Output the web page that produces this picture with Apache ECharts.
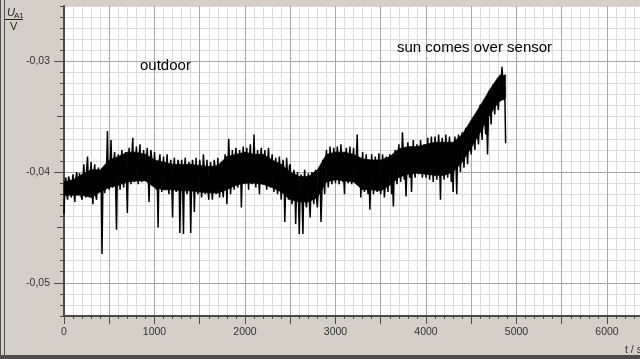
<!DOCTYPE html>
<html>
<head>
<meta charset="utf-8">
<script src="https://cdn.jsdelivr.net/npm/echarts@6/dist/echarts.min.js"></script>
<style>
html,body{margin:0;padding:0;background:#d4d0c8;}
#c{width:640px;height:359px;}
</style>
</head>
<body>
<div id="c"></div>
<script>
// sampling step of the recorded signal (s); samples every 10 s, stored as two interleaved lists
const sampleStep = 20;
// U_A1 in V at t = 0, 20, 40, ... s
const uA1even = [
-0.0438,-0.0405,-0.0425,-0.0407,-0.0423,
-0.0402,-0.0427,-0.0400,-0.0420,-0.0407,
-0.0425,-0.0393,-0.0423,-0.0386,-0.0420,
-0.0391,-0.0429,-0.0393,-0.0425,-0.0396,
-0.0418,-0.0474,-0.0396,-0.0420,-0.0363,
-0.0416,-0.0371,-0.0414,-0.0382,-0.0452,
-0.0384,-0.0416,-0.0380,-0.0414,-0.0382,
-0.0437,-0.0378,-0.0411,-0.0369,-0.0409,
-0.0377,-0.0411,-0.0375,-0.0409,-0.0380,
-0.0407,-0.0378,-0.0427,-0.0380,-0.0411,
-0.0382,-0.0416,-0.0450,-0.0384,-0.0418,
-0.0386,-0.0416,-0.0384,-0.0420,-0.0389,
-0.0441,-0.0387,-0.0418,-0.0389,-0.0455,
-0.0389,-0.0456,-0.0387,-0.0420,-0.0391,
-0.0455,-0.0389,-0.0436,-0.0387,-0.0420,
-0.0389,-0.0423,-0.0384,-0.0420,-0.0389,
-0.0425,-0.0391,-0.0425,-0.0389,-0.0420,
-0.0387,-0.0423,-0.0391,-0.0423,-0.0384,
-0.0429,-0.0370,-0.0420,-0.0380,-0.0416,
-0.0378,-0.0414,-0.0380,-0.0432,-0.0377,
-0.0411,-0.0378,-0.0416,-0.0375,-0.0411,
-0.0366,-0.0414,-0.0380,-0.0420,-0.0378,
-0.0411,-0.0380,-0.0416,-0.0378,-0.0414,
-0.0384,-0.0418,-0.0387,-0.0420,-0.0386,
-0.0425,-0.0389,-0.0445,-0.0387,-0.0425,
-0.0393,-0.0429,-0.0398,-0.0447,-0.0400,
-0.0456,-0.0402,-0.0456,-0.0398,-0.0432,
-0.0401,-0.0441,-0.0400,-0.0429,-0.0398,
-0.0432,-0.0400,-0.0445,-0.0389,-0.0420,
-0.0380,-0.0414,-0.0377,-0.0411,-0.0378,
-0.0410,-0.0377,-0.0411,-0.0375,-0.0409,
-0.0420,-0.0378,-0.0410,-0.0377,-0.0411,
-0.0378,-0.0409,-0.0366,-0.0411,-0.0423,
-0.0382,-0.0418,-0.0384,-0.0420,-0.0434,
-0.0384,-0.0420,-0.0386,-0.0418,-0.0383,
-0.0420,-0.0384,-0.0423,-0.0386,-0.0418,
-0.0384,-0.0420,-0.0431,-0.0380,-0.0411,
-0.0375,-0.0409,-0.0364,-0.0407,-0.0422,
-0.0373,-0.0405,-0.0418,-0.0371,-0.0405,
-0.0375,-0.0402,-0.0371,-0.0405,-0.0375,
-0.0405,-0.0369,-0.0407,-0.0368,-0.0409,
-0.0368,-0.0407,-0.0366,-0.0425,-0.0369,
-0.0407,-0.0366,-0.0405,-0.0368,-0.0409,
-0.0418,-0.0368,-0.0420,-0.0366,-0.0400,
-0.0364,-0.0396,-0.0360,-0.0393,-0.0357,
-0.0384,-0.0351,-0.0380,-0.0347,-0.0375,
-0.0339,-0.0371,-0.0335,-0.0366,-0.0384,
-0.0327,-0.0357,-0.0321,-0.0348,-0.0317,
-0.0344,-0.0312,-0.0305,-0.0335,-0.0374
];
// U_A1 in V at t = 10, 30, 50, ... s
const uA1odd = [
-0.0412,-0.0420,-0.0404,-0.0415,-0.0409,
-0.0418,-0.0406,-0.0412,-0.0401,-0.0422,
-0.0405,-0.0415,-0.0398,-0.0410,-0.0402,
-0.0417,-0.0400,-0.0421,-0.0408,-0.0412,
-0.0405,-0.0410,-0.0419,-0.0398,-0.0408,
-0.0395,-0.0403,-0.0389,-0.0410,-0.0398,
-0.0402,-0.0391,-0.0407,-0.0396,-0.0404,
-0.0392,-0.0399,-0.0385,-0.0404,-0.0393,
-0.0398,-0.0386,-0.0403,-0.0392,-0.0400,
-0.0390,-0.0402,-0.0394,-0.0388,-0.0405,
-0.0396,-0.0408,-0.0391,-0.0403,-0.0399,
-0.0405,-0.0395,-0.0411,-0.0399,-0.0408,
-0.0396,-0.0412,-0.0402,-0.0394,-0.0410,
-0.0407,-0.0398,-0.0413,-0.0401,-0.0395,
-0.0409,-0.0397,-0.0405,-0.0414,-0.0400,
-0.0403,-0.0412,-0.0396,-0.0408,-0.0415,
-0.0400,-0.0414,-0.0405,-0.0397,-0.0411,
-0.0409,-0.0398,-0.0415,-0.0403,-0.0394,
-0.0402,-0.0392,-0.0408,-0.0397,-0.0388,
-0.0396,-0.0404,-0.0389,-0.0402,-0.0395,
-0.0390,-0.0400,-0.0386,-0.0406,-0.0394,
-0.0399,-0.0391,-0.0404,-0.0388,-0.0401,
-0.0393,-0.0405,-0.0390,-0.0399,-0.0396,
-0.0403,-0.0395,-0.0409,-0.0399,-0.0405,
-0.0407,-0.0398,-0.0412,-0.0403,-0.0395,
-0.0411,-0.0419,-0.0404,-0.0415,-0.0421,
-0.0413,-0.0422,-0.0410,-0.0426,-0.0416,
-0.0420,-0.0409,-0.0417,-0.0412,-0.0423,
-0.0414,-0.0406,-0.0418,-0.0401,-0.0396,
-0.0395,-0.0402,-0.0390,-0.0398,-0.0387,
-0.0393,-0.0387,-0.0399,-0.0391,-0.0402,
-0.0388,-0.0398,-0.0394,-0.0401,-0.0390,
-0.0396,-0.0389,-0.0403,-0.0393,-0.0399,
-0.0405,-0.0396,-0.0410,-0.0401,-0.0407,
-0.0399,-0.0408,-0.0403,-0.0395,-0.0411,
-0.0406,-0.0397,-0.0412,-0.0402,-0.0399,
-0.0397,-0.0405,-0.0392,-0.0400,-0.0395,
-0.0389,-0.0396,-0.0384,-0.0399,-0.0391,
-0.0393,-0.0385,-0.0390,-0.0397,-0.0387,
-0.0386,-0.0392,-0.0383,-0.0394,-0.0389,
-0.0384,-0.0393,-0.0380,-0.0390,-0.0387,
-0.0391,-0.0382,-0.0388,-0.0379,-0.0394,
-0.0385,-0.0392,-0.0381,-0.0389,-0.0386,
-0.0383,-0.0388,-0.0379,-0.0385,-0.0381,
-0.0380,-0.0373,-0.0378,-0.0370,-0.0375,
-0.0365,-0.0370,-0.0360,-0.0366,-0.0357,
-0.0355,-0.0348,-0.0353,-0.0345,-0.0350,
-0.0340,-0.0333,-0.0338,-0.0330,-0.0336,
-0.0325,-0.0320,-0.0318,-0.0322
];
// dense core of the noise band, t in s, values in V
const coreTime = [0,100,200,300,400,500,600,700,800,900,1000,1100,1200,1300,1400,1500,1600,1700,1800,1900,
  2000,2100,2200,2300,2400,2500,2600,2700,2800,2900,3000,3100,3200,3300,3400,3500,3600,3700,3800,3900,
  4000,4100,4200,4300,4400,4500,4600,4700,4800,4880];
const coreTop = [-0.0409,-0.0407,-0.0402,-0.0398,-0.0398,-0.0389,-0.0386,-0.0382,-0.0382,-0.0384,
  -0.0389,-0.0391,-0.0393,-0.0393,-0.0393,-0.0394,-0.0395,-0.0394,-0.0386,-0.0384,
  -0.0382,-0.0384,-0.0384,-0.0389,-0.0393,-0.0400,-0.0404,-0.0404,-0.0398,-0.0384,
  -0.0382,-0.0382,-0.0384,-0.0388,-0.0389,-0.0389,-0.0386,-0.0379,-0.0377,-0.0377,
  -0.0375,-0.0373,-0.0373,-0.0373,-0.0366,-0.0353,-0.0340,-0.0326,-0.0314,-0.0312];
const coreBottom = [-0.0421,-0.0421,-0.0421,-0.0423,-0.0418,-0.0414,-0.0412,-0.0409,-0.0408,-0.0408,
  -0.0414,-0.0416,-0.0416,-0.0417,-0.0417,-0.0418,-0.0419,-0.0419,-0.0416,-0.0412,
  -0.0410,-0.0410,-0.0411,-0.0414,-0.0418,-0.0425,-0.0427,-0.0427,-0.0423,-0.0409,
  -0.0407,-0.0408,-0.0409,-0.0416,-0.0416,-0.0417,-0.0412,-0.0405,-0.0402,-0.0401,
  -0.0402,-0.0403,-0.0403,-0.0400,-0.0391,-0.0378,-0.0364,-0.0349,-0.0337,-0.0333];

const yMin = -0.053, yMax = -0.025;
const xMin = 0, xMax = 6365;
const yMajorTicks = [-0.05, -0.045, -0.04, -0.035, -0.03];
const yLabelTicks = [-0.05, -0.04, -0.03];
const annotations = [
  {text: 'outdoor', x: 140, y: 66},
  {text: 'sun comes over sensor', x: 397, y: 48}
];

const seriesData = [];
uA1even.forEach((v, i) => {
  seriesData.push([i * sampleStep, v]);
  if (i < uA1odd.length) seriesData.push([i * sampleStep + sampleStep / 2, uA1odd[i]]);
});
const coreData = coreTime.map((t, i) => [t, coreTop[i], coreBottom[i]]);
const labelFont = "'Liberation Sans Narrow','Arial Narrow','Liberation Sans',sans-serif";
const axisCol = '#4a4a4a';

const chart = echarts.init(document.getElementById('c'), null, {renderer: 'canvas'});
chart.setOption({
  animation: false,
  backgroundColor: '#d4d0c8',
  grid: {left: 64, top: 6, right: 0, bottom: 43, show: true, backgroundColor: '#ffffff', borderWidth: 0, containLabel: false, outerBoundsMode: 'none'},
  xAxis: [
    {type: 'value', min: xMin, max: xMax, interval: 100, position: 'bottom',
     axisLine: {show: true, onZero: false, lineStyle: {color: axisCol, width: 2}},
     axisTick: {show: true, length: 3, lineStyle: {color: axisCol}},
     axisLabel: {show: false},
     splitLine: {show: true, lineStyle: {color: '#dcdcdc', width: 1}}},
    {type: 'value', min: xMin, max: xMax, interval: 500, position: 'bottom',
     axisLine: {show: false, onZero: false},
     axisTick: {show: true, length: 8, lineStyle: {color: axisCol}},
     axisLabel: {show: true, margin: 11, color: '#333', fontSize: 10.5, fontFamily: labelFont,
       formatter: v => (v % 1000 === 0 ? String(v) : '')},
     splitLine: {show: true, lineStyle: {color: '#a8a8a8', width: 1}}}
  ],
  yAxis: [
    {type: 'value', min: yMin, max: yMax, interval: 0.001, position: 'left',
     axisLine: {show: true, onZero: false, lineStyle: {color: axisCol, width: 2}},
     axisTick: {show: true, length: 4, lineStyle: {color: axisCol}},
     axisLabel: {show: false},
     splitLine: {show: true, lineStyle: {color: '#dcdcdc', width: 1}}},
    {type: 'value', min: yMin, max: yMax, position: 'left',
     axisLine: {show: false, onZero: false},
     axisTick: {show: true, length: 7, customValues: yMajorTicks, lineStyle: {color: axisCol}},
     axisLabel: {show: false},
     splitLine: {show: false}},
    {type: 'value', min: yMin, max: yMax, position: 'left',
     axisLine: {show: false, onZero: false},
     axisTick: {show: true, length: 10, customValues: yLabelTicks, lineStyle: {color: axisCol}},
     axisLabel: {show: true, customValues: yLabelTicks, margin: 14, color: '#333', fontSize: 10.5, fontFamily: labelFont,
       formatter: v => v.toFixed(2).replace('.', ',')},
     splitLine: {show: false}}
  ],
  series: [
    {type: 'line', z: 1, data: [], xAxisIndex: 0, yAxisIndex: 0,
     markLine: {z: 0, silent: true, symbol: ['none', 'none'], label: {show: false},
       lineStyle: {color: '#a8a8a8', width: 1, type: 'solid'},
       data: yMajorTicks.map(v => ({yAxis: v}))}},
    {type: 'custom', z: 3, xAxisIndex: 0, yAxisIndex: 0, data: coreData, silent: true,
     renderItem: function (params, api) {
       const i = params.dataIndexInside;
       if (i >= params.dataInsideLength - 1) return null;
       const p1 = api.coord([api.value(0, i), api.value(1, i)]);
       const p2 = api.coord([api.value(0, i + 1), api.value(1, i + 1)]);
       const p3 = api.coord([api.value(0, i + 1), api.value(2, i + 1)]);
       const p4 = api.coord([api.value(0, i), api.value(2, i)]);
       return {type: 'polygon', shape: {points: [p1, p2, p3, p4]},
         style: {fill: '#000', stroke: '#000', lineWidth: 0.6}};
     }},
    {type: 'line', z: 4, data: seriesData, xAxisIndex: 0, yAxisIndex: 0,
     showSymbol: false, symbol: 'none', sampling: null,
     lineStyle: {color: '#000', width: 1.5}}
  ],
  graphic: [
    {type: 'rect', shape: {x: 0, y: 0, width: 1, height: 359}, style: {fill: '#505050'}, z: 100},
    {type: 'rect', shape: {x: 4, y: 0, width: 1, height: 359}, style: {fill: '#505050'}, z: 100},
    {type: 'rect', shape: {x: 0, y: 355, width: 640, height: 4}, style: {fill: '#4d4d4d'}, z: 100},
    {type: 'text', x: 7, y: 7, style: {text: 'U', font: "italic 11px 'Liberation Sans', sans-serif", fill: '#222'}, z: 100},
    {type: 'text', x: 14, y: 12, style: {text: 'A1', font: "8px 'Liberation Sans', sans-serif", fill: '#222'}, z: 100},
    {type: 'line', shape: {x1: 5, y1: 19.5, x2: 23, y2: 19.5}, style: {stroke: '#222', lineWidth: 1}, z: 100},
    {type: 'text', x: 10, y: 21, style: {text: 'V', font: "11px 'Liberation Sans', sans-serif", fill: '#222'}, z: 100},
    {type: 'text', x: 625, y: 350, style: {text: '{i|t} / s', rich: {i: {fontStyle: 'italic'}}, font: "10.5px 'Liberation Sans', sans-serif", fill: '#333', verticalAlign: 'middle'}, z: 100}
  ].concat(annotations.map(a => ({
    type: 'text', x: a.x, y: a.y, z: 100,
    style: {text: a.text, font: "15px 'Liberation Sans', Arial, sans-serif", fill: '#000', verticalAlign: 'middle'}
  })))
});
</script>
</body>
</html>
